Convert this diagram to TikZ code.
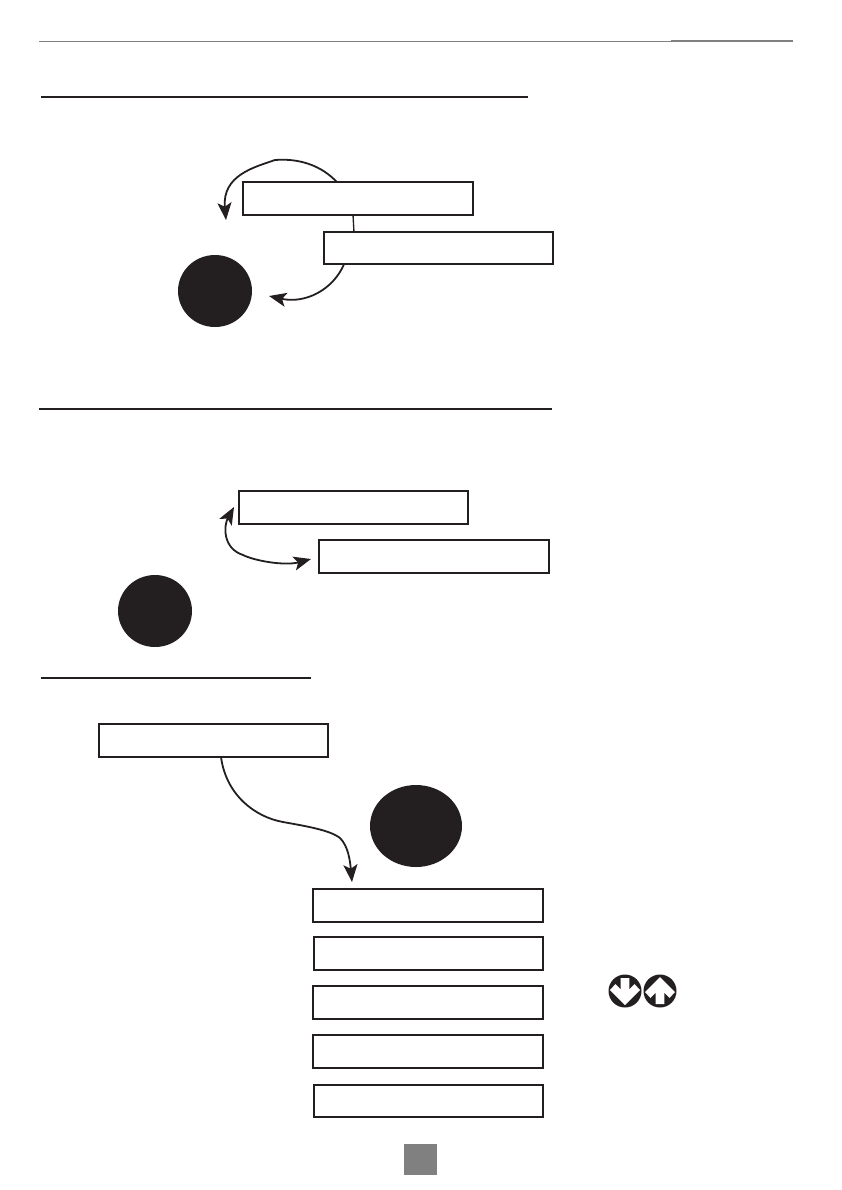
\documentclass[tikz,border=0pt]{standalone}
\usetikzlibrary{arrows.meta,calc,shapes.geometric}
\definecolor{ink}{HTML}{231F20}
\definecolor{pagegrey}{HTML}{808080}
\tikzset{
  x=0.75pt,y=-0.75pt,
  panel/.style={draw=ink,line width=1.6pt,fill=white,rectangle,minimum width=172pt,minimum height=24.4pt,inner sep=0pt,outer sep=0pt},
  blob/.style={fill=ink,draw=none,ellipse,inner sep=0pt},
  keycap/.style={fill=ink,draw=none,circle,minimum size=24.75pt,inner sep=0pt},
  keyarrow/.style={fill=white,draw=none},
  flow/.style={draw=ink,line width=1.35pt},
  tip/.style={-{Stealth[length=13pt,width=10.5pt,inset=3pt]}},
  bothtips/.style={{Stealth[length=13pt,width=10.5pt,inset=3pt]}-{Stealth[length=13pt,width=10.5pt,inset=3pt]}},
  sectionrule/.style={draw=ink,line width=1.4pt},
  headrule/.style={draw=pagegrey,line width=0.75pt},
  headtab/.style={draw=pagegrey,line width=1.6pt}
}
\begin{document}
\begin{tikzpicture}
\useasboundingbox (0,0) rectangle (842,1190);
% header and section rules
\draw[headrule] (39,41.6) -- (671,41.6);
\draw[headtab] (671,40.6) -- (793,40.6);
\draw[sectionrule] (41,97) -- (528,97);
\draw[sectionrule] (39,409) -- (552,409);
\draw[sectionrule] (41,678.4) -- (311,678.4);
% panels
\node[panel] (b1) at (358,198.5) {};
\node[panel] (b2) at (438.5,248) {};
\node[panel] (b3) at (353.5,507.5) {};
\node[panel] (b4) at (434,556.5) {};
\node[panel] (b5) at (213.5,740.5) {};
\node[panel] (b6) at (428,905.5) {};
\node[panel] (b7) at (428.5,953.5) {};
\node[panel] (b8) at (428,1002.5) {};
\node[panel] (b9) at (428,1051.5) {};
\node[panel] (b10) at (428.5,1101) {};
% filled discs
\node[blob,minimum width=55.5pt,minimum height=54pt] (c1) at (215,291) {};
\node[blob,minimum width=55.5pt,minimum height=54pt] (c2) at (155,611) {};
\node[blob,minimum width=69pt,minimum height=61.5pt] (c3) at (416,826) {};
% free ends of connectors
\coordinate (t1) at (226,220);
\coordinate (t2) at (269,296);
\coordinate (t3) at (234,507);
\coordinate (t4) at (311,559);
\coordinate (t5) at (352,882);
% connectors
\draw[flow,tip] ([xshift=-15.75pt]b1.north) .. controls (322,166) and (300,158) .. (275,160)
  .. controls (255,167) and (222,175) .. (t1);
\draw[flow,line width=1pt] ([xshift=-3.75pt]b1.south) -- ([xshift=-63.4pt]b2.north);
\draw[flow,tip] ([xshift=-70.9pt]b2.south) .. controls (333,290) and (305,304) .. (t2);
\draw[flow,bothtips] (t3) .. controls (224,525) and (222,548) .. (243,555)
  .. controls (255,561) and (285,566) .. (t4);
\draw[flow,tip] ([xshift=5.6pt]b5.south) .. controls (226,795) and (255,817) .. (283,822)
  .. controls (305,826) and (330,830) .. (340,838)
  .. controls (348,846) and (350,860) .. (t5);
% key icons
\node[keycap] (kd) at (625,991) {};
\node[keycap] (ku) at (660,991) {};
\begin{scope}[shift={(kd.center)}]
\fill[keyarrow] (4.3,-13) -- (4.3,-1.5) -- (9.5,-7) -- (15,-1) -- (0,14) -- (-15,-1) -- (-9.5,-7) -- (-4.3,-1.5) -- (-4.3,-13) -- cycle;
\end{scope}
\begin{scope}[shift={(ku.center)}]
\fill[keyarrow] (4.3,13) -- (4.3,1.5) -- (9.5,7) -- (15,1) -- (0,-14) -- (-15,1) -- (-9.5,7) -- (-4.3,1.5) -- (-4.3,13) -- cycle;
\end{scope}
% page number tab
\node[fill=pagegrey,draw=none,minimum width=24.75pt,minimum height=23.25pt,inner sep=0pt] (pg) at (420.5,1159.5) {};
\end{tikzpicture}
\end{document}
